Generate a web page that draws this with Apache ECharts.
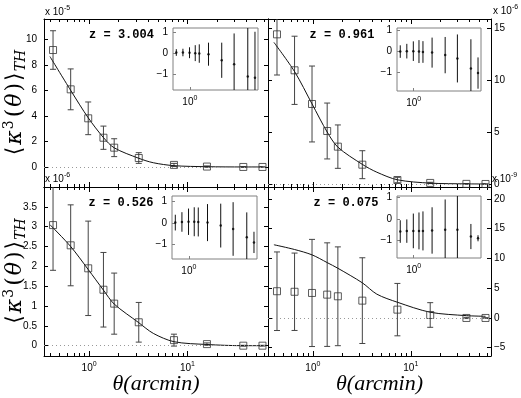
<!DOCTYPE html>
<html><head><meta charset="utf-8">
<script src="https://cdn.jsdelivr.net/npm/echarts@6/dist/echarts.min.js"></script>
<style>html,body{margin:0;padding:0;background:#fff}#c{width:521px;height:398px}</style>
</head><body><div id="c"></div>
<script>
// ---------- data ----------
const theta = [0.43, 0.65, 0.98, 1.4, 1.8, 3.2, 7.3, 15.8, 37, 58];
const curveTheta = [0.4, 0.65, 0.98, 1.4, 1.8, 3.2, 4.5, 7.3, 15.8, 37, 58];

// z = 3.004 (x 1e-5)
const valZ3004 = [9.16, 6.08, 3.81, 2.29, 1.51, 0.70, 0.16, 0.03, 0.0, 0.0];
const errZ3004 = [1.51, 1.6, 1.28, 0.91, 0.70, 0.42, 0.12, 0.05, 0.01, 0.01];
const curveZ3004 = [8.65, 6.0, 3.85, 2.3, 1.5, 0.68, 0.33, 0.1, 0.02, 0.0, 0.0];
const insetValZ3004 = [0.03, 0.03, 0.02, 0.0, -0.02, -0.05, -0.34, -0.53, -1.12, -1.17];
const insetErrZ3004 = [0.16, 0.18, 0.26, 0.38, 0.44, 0.55, 0.84, 1.47, 2.5, 2.19];

// z = 0.961 (x 1e-6)
const valZ0961 = [14.37, 10.92, 7.69, 5.1, 3.6, 1.87, 0.4, 0.12, 0.03, 0.02];
const errZ0961 = [3.9, 3.27, 3.64, 2.68, 2.08, 1.34, 0.26, 0.06, 0.02, 0.01];
const curveZ0961 = [13.6, 10.8, 7.7, 5.0, 3.55, 1.9, 1.15, 0.42, 0.1, 0.03, 0.02];
const insetValZ0961 = [0.0, 0.02, 0.02, 0.0, -0.02, -0.05, -0.17, -0.33, -0.81, -1.03];
const insetErrZ0961 = [0.3, 0.35, 0.47, 0.55, 0.52, 0.72, 0.87, 1.15, 1.4, 0.75];

// z = 0.526 (x 1e-6)
const valZ0526 = [3.04, 2.53, 1.95, 1.41, 1.06, 0.59, 0.14, 0.04, 0.0, 0.0];
const errZ0526 = [1.14, 1.02, 1.19, 0.94, 0.77, 0.50, 0.15, 0.03, 0.01, 0.01];
const curveZ0526 = [3.05, 2.5, 1.92, 1.4, 1.05, 0.58, 0.31, 0.1, 0.03, 0.0, 0.0];
const insetValZ0526 = [0.02, 0.05, 0.06, 0.06, 0.05, 0.02, -0.12, -0.28, -0.67, -0.91];
const insetErrZ0526 = [0.37, 0.46, 0.62, 0.68, 0.68, 0.87, 1.03, 1.26, 1.17, 0.5];

// z = 0.075 (x 1e-9)
const valZ0075 = [4.49, 4.4, 4.2, 3.92, 3.64, 2.91, 1.4, 0.5, 0.0, 0.0];
const errZ0075 = [6.6, 6.5, 9.0, 8.7, 8.3, 7.2, 4.4, 2.07, 0.1, 0.05];
const curveZ0075 = [12.3, 11.5, 10.6, 9.3, 8.35, 5.9, 4.0, 2.64, 0.96, 0.39, 0.28];
const insetValZ0075 = [-0.59, -0.57, -0.56, -0.56, -0.56, -0.54, -0.51, -0.51, -0.82, -0.9];
const insetErrZ0075 = [0.52, 0.54, 0.8, 0.85, 0.9, 1.07, 1.4, 2.0, 0.58, 0.14];

// ticks and labels
const xMajorTicks = [1, 10];
const xMinorTicks = [0.4, 0.5, 0.6, 0.7, 0.8, 0.9, 2, 3, 4, 5, 6, 7, 8, 9, 20, 30, 40, 50, 60];
const yTicksZ3004 = [0, 2, 4, 6, 8, 10];
const yTicksZ0961 = [0, 5, 10, 15];
const yTicksZ0526 = [0, 0.5, 1, 1.5, 2, 2.5, 3, 3.5];
const yTicksZ0075 = [-5, 0, 5, 10, 15, 20];
const insetYTicks = [-1, 0, 1];
const insetXTicks = [1];
const redshiftLabels = ['z = 3.004', 'z = 0.961', 'z = 0.526', 'z = 0.075'];
const scaleExponents = ['-5', '-6', '-6', '-9'];
const xTitle = 'θ(arcmin)';

// ---------- layout ----------
const SANS = 'Liberation Sans, Arial, Helvetica, sans-serif';
const SERIF = 'Liberation Serif, DejaVu Serif, serif';
const SERIF2 = 'DejaVu Serif, Liberation Serif, serif';
const MONO = 'Liberation Mono, Courier New, monospace';
const X_MIN = 0.348, X_MAX = 66;
const IX_MIN = 0.35, IX_MAX = 70;

const panels = [
  {val: valZ3004, err: errZ3004, curve: curveZ3004, ival: insetValZ3004, ierr: insetErrZ3004, yticks: yTicksZ3004,
   grid: {left: 44, top: 19, width: 224, height: 168}, yMin: -1.57, yMax: 11.59, side: 'left', bottom: false,
   inset: {left: 173, top: 28, width: 85, height: 62}, iyMin: -1.76, iyMax: 1.2, zPos: [121.5, 35], expPos: [45, 12], expAlign: 'left'},
  {val: valZ0961, err: errZ0961, curve: curveZ0961, ival: insetValZ0961, ierr: insetErrZ0961, yticks: yTicksZ0961,
   grid: {left: 268, top: 19, width: 223, height: 168}, yMin: -0.27, yMax: 15.84, side: 'right', bottom: false,
   inset: {left: 397, top: 28, width: 84, height: 63}, iyMin: -1.89, iyMax: 1.13, zPos: [342, 35], expPos: [493, 11], expAlign: 'left'},
  {val: valZ0526, err: errZ0526, curve: curveZ0526, ival: insetValZ0526, ierr: insetErrZ0526, yticks: yTicksZ0526,
   grid: {left: 44, top: 187, width: 224, height: 169}, yMin: -0.26, yMax: 4.0, side: 'left', bottom: true,
   inset: {left: 172, top: 196, width: 85, height: 63}, iyMin: -1.69, iyMax: 1.27, zPos: [121, 203], expPos: [45, 179], expAlign: 'left'},
  {val: valZ0075, err: errZ0075, curve: curveZ0075, ival: insetValZ0075, ierr: insetErrZ0075, yticks: yTicksZ0075,
   grid: {left: 268, top: 187, width: 223, height: 169}, yMin: -6.39, yMax: 22.0, side: 'right', bottom: true,
   inset: {left: 397, top: 196, width: 84, height: 62}, iyMin: -1.81, iyMax: 1.05, zPos: [346, 203], expPos: [492, 179], expAlign: 'left'}
];

const supRich = {
  b: {fontSize: 10, fontFamily: SANS, color: '#000', lineHeight: 14},
  s: {fontSize: 7, fontFamily: SANS, color: '#000', lineHeight: 8, verticalAlign: 'top'}
};
const logFmt = v => '{b|10}{s|' + Math.round(Math.log10(v)) + '}';
const numFmt = v => String(v).replace('-', '\u2212');

const yTitleRich = {
  b: {fontSize: 22, fontFamily: SERIF2, color: '#000', lineHeight: 26, padding: [0, 1]},
  k: {fontSize: 22, fontFamily: SERIF2, fontStyle: 'italic', color: '#000', lineHeight: 26, padding: [0, 1]},
  sup: {fontSize: 14, fontFamily: SERIF2, color: '#000', lineHeight: 16, verticalAlign: 'top', padding: [0, 2, 0, 0]},
  sub: {fontSize: 14, fontFamily: SERIF2, fontStyle: 'italic', color: '#000', lineHeight: 12, verticalAlign: 'bottom'}
};
const yTitle = '{b|⟨}{k|κ}{sup|3}{b|(}{k|θ}{b|)}{b|⟩}{sub|TH}';

const grids = [], xAxes = [], yAxes = [], series = [], graphics = [];
const BLACK = '#000';

function errRender(color, cap) {
  return function (params, api) {
    const x = api.value(0), lo = api.value(1), hi = api.value(2);
    const p1 = api.coord([x, hi]), p2 = api.coord([x, lo]);
    const ch = [{type: 'line', shape: {x1: p1[0], y1: p1[1], x2: p2[0], y2: p2[1]}, style: {stroke: color, lineWidth: 1}}];
    if (cap) {
      ch.push({type: 'line', shape: {x1: p1[0] - cap, y1: p1[1], x2: p1[0] + cap, y2: p1[1]}, style: {stroke: color, lineWidth: 1}});
      ch.push({type: 'line', shape: {x1: p2[0] - cap, y1: p2[1], x2: p2[0] + cap, y2: p2[1]}, style: {stroke: color, lineWidth: 1}});
    }
    return {type: 'group', children: ch};
  };
}

panels.forEach((p, i) => {
  grids.push(Object.assign({containLabel: false, outerBoundsMode: 'none'}, p.grid));
  const xBase = {type: 'log', gridIndex: i, min: X_MIN, max: X_MAX, splitLine: {show: false}, logBase: 10};
  xAxes.push(Object.assign({}, xBase, {
    position: 'bottom',
    axisLine: {show: true, onZero: false, lineStyle: {color: BLACK, width: 1}},
    axisTick: {show: true, inside: true, length: 5, customValues: xMajorTicks, lineStyle: {color: BLACK}},
    axisLabel: {show: p.bottom, customValues: xMajorTicks, formatter: logFmt, rich: supRich, margin: 5},
    name: p.bottom ? xTitle : '', nameLocation: 'middle', nameGap: 17, nameMoveOverlap: false,
    nameTextStyle: {fontFamily: SERIF, fontStyle: 'italic', fontSize: 22, color: BLACK}
  }));
  xAxes.push(Object.assign({}, xBase, {
    position: 'bottom', axisLine: {show: false, onZero: false},
    axisTick: {show: true, inside: true, length: 3, customValues: xMinorTicks, lineStyle: {color: BLACK}},
    axisLabel: {show: false}
  }));
  xAxes.push(Object.assign({}, xBase, {
    position: 'top',
    axisLine: {show: true, onZero: false, lineStyle: {color: BLACK, width: 1}},
    axisTick: {show: true, inside: true, length: 5, customValues: xMajorTicks, lineStyle: {color: BLACK}},
    axisLabel: {show: false}
  }));
  xAxes.push(Object.assign({}, xBase, {
    position: 'top', axisLine: {show: false, onZero: false},
    axisTick: {show: true, inside: true, length: 3, customValues: xMinorTicks, lineStyle: {color: BLACK}},
    axisLabel: {show: false}
  }));
  const yBase = {type: 'value', gridIndex: i, min: p.yMin, max: p.yMax, splitLine: {show: false}};
  yAxes.push(Object.assign({}, yBase, {
    position: p.side,
    axisLine: {show: true, onZero: false, lineStyle: {color: BLACK, width: 1}},
    axisTick: {show: true, inside: true, length: 4, customValues: p.yticks, lineStyle: {color: BLACK}},
    axisLabel: {show: true, customValues: p.yticks, formatter: numFmt, fontFamily: SANS, fontSize: 10, color: BLACK, margin: p.side === 'left' ? 7 : 3},
    name: p.side === 'left' ? yTitle : '', nameLocation: 'middle', nameGap: 16, nameRotate: 90, nameMoveOverlap: false,
    nameTextStyle: {rich: yTitleRich}
  }));
  yAxes.push(Object.assign({}, yBase, {
    position: p.side === 'left' ? 'right' : 'left',
    axisLine: {show: true, onZero: false, lineStyle: {color: BLACK, width: 1}},
    axisTick: {show: true, inside: true, length: 4, customValues: p.yticks, lineStyle: {color: BLACK}},
    axisLabel: {show: false}
  }));

  const xi = i * 4, yi = i * 2;
  series.push({
    type: 'line', xAxisIndex: xi, yAxisIndex: yi, smooth: 0.3, symbol: 'none',
    data: curveTheta.map((t, k) => [t, p.curve[k]]),
    lineStyle: {color: '#111', width: 1}, z: 3, silent: true,
    markLine: {silent: true, symbol: 'none', label: {show: false},
      lineStyle: {color: '#999', type: [1, 3], width: 1}, data: [{yAxis: 0}]}
  });
  series.push({
    type: 'custom', xAxisIndex: xi, yAxisIndex: yi, clip: true, z: 3, silent: true,
    renderItem: errRender('#444', 3),
    data: theta.map((t, k) => [t, p.val[k] - p.err[k], p.val[k] + p.err[k]])
  });
  series.push({
    type: 'scatter', xAxisIndex: xi, yAxisIndex: yi, symbol: 'rect', symbolSize: 7, z: 4, silent: true,
    itemStyle: {color: 'rgba(0,0,0,0)', borderColor: '#333', borderWidth: 1},
    data: theta.map((t, k) => [t, p.val[k]])
  });

  graphics.push({type: 'text', x: p.zPos[0], y: p.zPos[1], z: 100,
    style: {text: redshiftLabels[i], font: 'bold 12px ' + MONO, fill: BLACK, align: 'center', verticalAlign: 'middle'}});
  graphics.push({type: 'text', x: p.expPos[0], y: p.expPos[1], z: 100,
    style: {text: '{b|x 10}{s|' + scaleExponents[i] + '}', rich: supRich, align: p.expAlign, verticalAlign: 'middle'}});
});

panels.forEach((p, i) => {
  const gi = 4 + i;
  grids.push(Object.assign({show: true, backgroundColor: '#fff', borderColor: '#808080', borderWidth: 1, z: 10, containLabel: false, outerBoundsMode: 'none'}, p.inset));
  xAxes.push({type: 'log', gridIndex: gi, min: IX_MIN, max: IX_MAX, position: 'bottom', z: 11,
    splitLine: {show: false}, axisLine: {show: false, onZero: false},
    axisTick: {show: true, inside: true, length: 3, customValues: insetXTicks, lineStyle: {color: '#808080'}},
    axisLabel: {show: true, customValues: insetXTicks, formatter: logFmt, rich: supRich, margin: 5}});
  yAxes.push({type: 'value', gridIndex: gi, min: p.iyMin, max: p.iyMax, position: 'left', z: 11,
    splitLine: {show: false}, axisLine: {show: false, onZero: false},
    axisTick: {show: true, inside: true, length: 3, customValues: insetYTicks, lineStyle: {color: '#808080'}},
    axisLabel: {show: true, customValues: insetYTicks, formatter: numFmt, fontFamily: SANS, fontSize: 10, color: BLACK, margin: 5}});
  const xi = xAxes.length - 1, yi = yAxes.length - 1;
  series.push({type: 'custom', xAxisIndex: xi, yAxisIndex: yi, clip: true, z: 12, silent: true,
    renderItem: errRender('#111', 0),
    data: theta.map((t, k) => [t, p.ival[k] - p.ierr[k], p.ival[k] + p.ierr[k]])});
  series.push({type: 'scatter', xAxisIndex: xi, yAxisIndex: yi, symbol: 'circle', symbolSize: 2.5, z: 13, silent: true,
    itemStyle: {color: '#000'}, data: theta.map((t, k) => [t, p.ival[k]])});
});

const chart = echarts.init(document.getElementById('c'), null, {renderer: 'canvas'});
chart.setOption({
  animation: false,
  backgroundColor: '#fff',
  grid: grids, xAxis: xAxes, yAxis: yAxes, series: series, graphic: graphics
});
</script></body></html>
